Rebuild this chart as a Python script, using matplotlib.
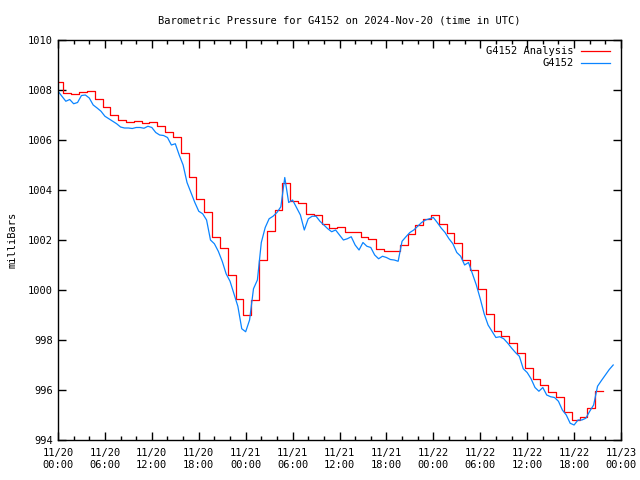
#!/bin/python

import matplotlib
matplotlib.use("Agg")
import matplotlib.pyplot as plt
import numpy as np

plt.rcParams['font.family'] = ['DejaVu Sans Mono']

# hourly analysis values (each held for one hour, starting 11/19 23:42)
red_vals = [1008.33, 1007.87, 1007.83, 1007.91, 1007.95, 1007.63, 1007.31, 1006.99,
            1006.79, 1006.72, 1006.75, 1006.68, 1006.74, 1006.55, 1006.31, 1006.12,
            1005.47, 1004.54, 1003.63, 1003.11, 1002.12, 1001.67, 1000.60, 999.63,
            999.00, 999.60, 1001.20, 1002.38, 1003.20, 1004.27, 1003.58, 1003.48,
            1003.05, 1003.00, 1002.65, 1002.49, 1002.51, 1002.31, 1002.31, 1002.11,
            1002.04, 1001.63, 1001.55, 1001.55, 1001.80, 1002.23, 1002.59, 1002.83,
            1003.00, 1002.63, 1002.27, 1001.87, 1001.20, 1000.80, 1000.03, 999.04,
            998.38, 998.16, 997.87, 997.50, 996.88, 996.44, 996.20, 995.91,
            995.71, 995.12, 994.80, 994.91, 995.27, 995.95]
red_start = -0.3   # hours from 11/20 00:00

# station observations every 30 minutes, 11/20 00:00 .. 11/22 23:00
blue_vals = [1007.95, 1007.75, 1007.55, 1007.62, 1007.45, 1007.50, 1007.78, 1007.80,
             1007.68, 1007.40, 1007.28, 1007.15, 1006.95, 1006.85, 1006.75, 1006.65,
             1006.52, 1006.48, 1006.48, 1006.46, 1006.50, 1006.50, 1006.47, 1006.55,
             1006.50, 1006.30, 1006.20, 1006.18, 1006.10, 1005.80, 1005.85, 1005.40,
             1005.00, 1004.30, 1003.90, 1003.50, 1003.15, 1003.05, 1002.80, 1002.00,
             1001.85, 1001.55, 1001.15, 1000.65, 1000.35, 999.85, 999.35, 998.45,
             998.33, 998.80, 1000.05, 1000.40, 1001.90, 1002.50, 1002.85, 1002.95,
             1003.10, 1003.33, 1004.50, 1003.50, 1003.60, 1003.30, 1003.00, 1002.40,
             1002.85, 1002.95, 1002.95, 1002.75, 1002.60, 1002.45, 1002.33, 1002.40,
             1002.20, 1002.00, 1002.05, 1002.13, 1001.80, 1001.60, 1001.90, 1001.75,
             1001.70, 1001.40, 1001.25, 1001.35, 1001.30, 1001.22, 1001.20, 1001.15,
             1001.95, 1002.13, 1002.30, 1002.40, 1002.55, 1002.70, 1002.80, 1002.85,
             1002.90, 1002.70, 1002.48, 1002.30, 1002.05, 1001.85, 1001.50, 1001.35,
             1001.00, 1001.10, 1000.65, 1000.20, 999.65, 999.05, 998.60, 998.35,
             998.10, 998.13, 998.05, 997.88, 997.68, 997.50, 997.35, 996.85,
             996.70, 996.45, 996.10, 995.95, 996.10, 995.80, 995.73, 995.70,
             995.55, 995.20, 995.00, 994.67, 994.60, 994.80, 994.80, 994.87,
             995.15, 995.40, 996.15, 996.38, 996.60, 996.82, 997.00]
blue_step = 0.5

tick_dates = ['11/20', '11/20', '11/20', '11/20', '11/21', '11/21', '11/21',
              '11/21', '11/22', '11/22', '11/22', '11/22', '11/23']
tick_times = ['00:00', '06:00', '12:00', '18:00'] * 3 + ['00:00']

red_x = red_start + np.arange(len(red_vals))
red_x = np.append(red_x, red_x[-1] + 1)
red_y = np.append(red_vals, red_vals[-1])
blue_x = np.arange(len(blue_vals)) * blue_step

fig = plt.figure(figsize=(6.4, 4.8), dpi=100)
ax = fig.add_axes([58/640, 40/480, 563/640, 400/480])

ax.step(red_x, red_y, where='post', color='#ff0000', lw=0.9, label='G4152 Analysis')
ax.plot(blue_x, blue_vals, color='#0a84ff', lw=0.9, label='G4152')

ax.set_xlim(0, 72)
ax.set_ylim(994, 1010)
ax.set_xticks(np.arange(0, 73, 6))
ax.set_xticks(np.arange(0, 73, 2), minor=True)
ax.set_xticklabels([d + '\n' + t for d, t in zip(tick_dates, tick_times)])
ax.set_yticks(np.arange(994, 1011, 2))
ax.tick_params(which='both', direction='in', top=True, right=True,
               labelsize=7.5, color='black')
ax.tick_params(which='major', length=6, width=1)
ax.tick_params(which='minor', length=3, width=1)
ax.tick_params(axis='x', pad=6)
for s in ax.spines.values():
    s.set_linewidth(1.0)

ax.set_title('Barometric Pressure for G4152 on 2024-Nov-20 (time in UTC)',
             fontsize=7.5, pad=12)
ax.set_ylabel('milliBars', fontsize=7.5, labelpad=8)

ax.legend(loc='upper right', bbox_to_anchor=(0.988, 0.995), frameon=False,
          markerfirst=False, fontsize=7.5, handlelength=2.8, handletextpad=0.7,
          labelspacing=0.2, borderaxespad=0)

fig.savefig('out.png', dpi=100)
